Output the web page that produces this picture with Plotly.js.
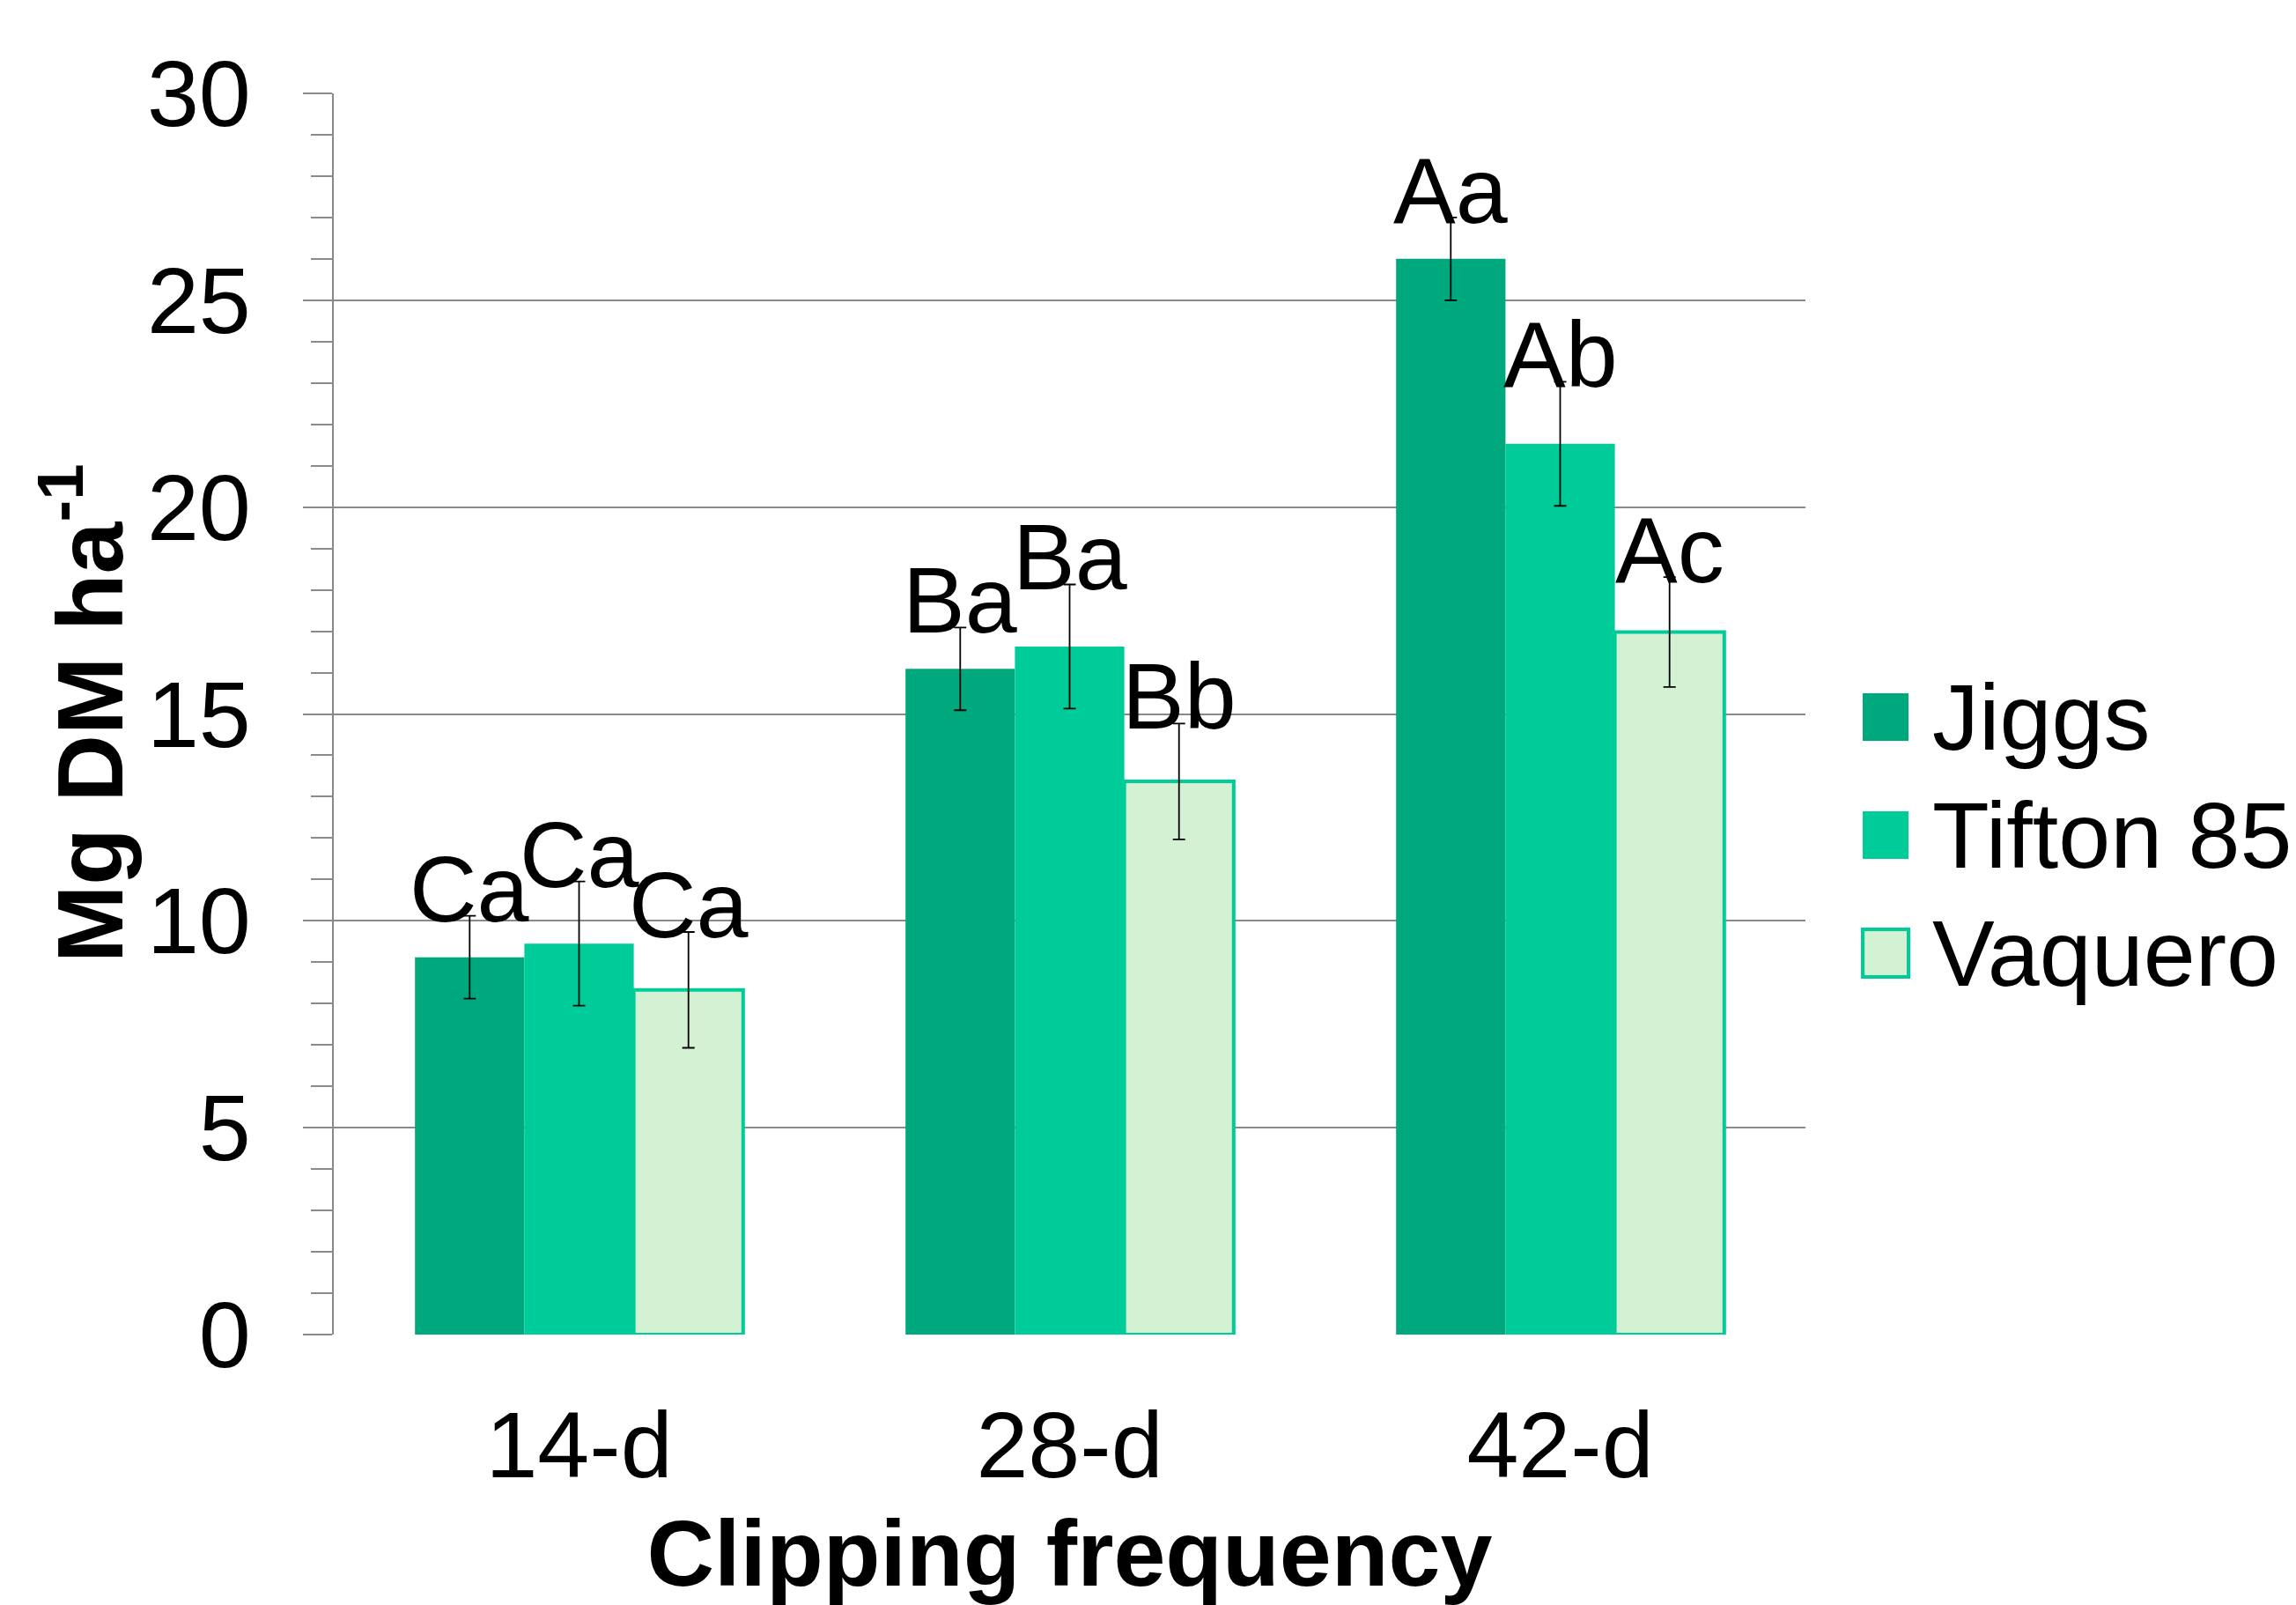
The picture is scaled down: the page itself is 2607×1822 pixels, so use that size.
<!DOCTYPE html>
<html>
<head>
<meta charset="utf-8">
<script src="https://cdn.plot.ly/plotly-3.0.1.min.js"></script>
<style>
  html, body { margin: 0; padding: 0; background: #ffffff; }
  #chart { width: 2607px; height: 1822px; }
</style>
</head>
<body>
<div id="chart"></div>
<script>
// ---- data ----
const categories = ["14-d", "28-d", "42-d"];
const seriesNames = ["Jiggs", "Tifton 85", "Vaquero"];
const jiggs = [9.12, 16.09, 26.0];
const jiggsErr = [1.0, 1.0, 1.0];
const tifton = [9.45, 16.63, 21.53];
const tiftonErr = [1.5, 1.5, 1.5];
const vaquero = [8.33, 13.37, 16.98];
const vaqueroErr = [1.4, 1.4, 1.33];
const jiggsLetters = ["Ca", "Ba", "Aa"];
const tiftonLetters = ["Ca", "Ba", "Ab"];
const vaqueroLetters = ["Ca", "Bb", "Ac"];

// ---- styles ----
const FONT = "Liberation Sans, Arial, Helvetica, sans-serif";
const FS = 106;
const GRAY = "#8a8a8a";
const colors = ["#00A87D", "#00CC99", "#D3F1D3"];
const outlineColors = ["#00A87D", "#00CC99", "#00CC99"];
const outlineWidths = [0, 0, 4];
const BARGAP = 0.331;

const vals = [jiggs, tifton, vaquero];
const errs = [jiggsErr, tiftonErr, vaqueroErr];
const letters = [jiggsLetters, tiftonLetters, vaqueroLetters];

// ---- layout geometry ----
const W = 2607, H = 1822;
const L = 379, R = 2050, T = 106, B = 1515;
const px = v => (v - L) / (R - L);
const py = v => (B - v) / (B - T);

const traces = [];
for (let i = 0; i < 3; i++) {
  traces.push({
    type: "bar",
    name: seriesNames[i],
    x: categories,
    y: vals[i],
    offsetgroup: "g" + i,
    marker: { color: colors[i], line: { color: outlineColors[i], width: outlineWidths[i] } },
    error_y: { type: "data", array: errs[i], visible: true, color: "#000000", thickness: 1.8, width: 7 },
    showlegend: false,
    hoverinfo: "skip"
  });
}

const annotations = [];
// significance letters: placed at the top of each error bar, offset to its bar slot
const catW = (R - L) / categories.length;
const barW = catW * (1 - BARGAP) / vals.length;
for (let i = 0; i < vals.length; i++) {
  for (let k = 0; k < categories.length; k++) {
    annotations.push({
      xref: "x", yref: "y",
      x: categories[k], y: vals[i][k] + errs[i][k],
      xshift: (i - (vals.length - 1) / 2) * barW,
      yshift: -30,
      xanchor: "center", yanchor: "bottom",
      text: letters[i][k], showarrow: false,
      font: { family: FONT, size: FS, color: "#000000" }
    });
  }
}

// ---- manual legend (swatches + labels) ----
const legendRows = [
  { y0: 787, y1: 841 },
  { y0: 921, y1: 975 },
  { y0: 1055, y1: 1109 }
];
const shapes = [];
legendRows.forEach((r, i) => {
  shapes.push({
    type: "rect", xref: "paper", yref: "paper",
    x0: px(2115), x1: px(2167), y0: py(r.y1), y1: py(r.y0),
    fillcolor: colors[i],
    line: { color: outlineColors[i], width: outlineWidths[i] }
  });
  annotations.push({
    xref: "paper", yref: "paper",
    x: px(2192), y: py((r.y0 + r.y1) / 2),
    xanchor: "left", yanchor: "middle",
    text: seriesNames[i], showarrow: false,
    font: { family: FONT, size: FS, color: "#000000" }
  });
});

// y-axis title as rotated annotation for exact placement
annotations.push({
  xref: "paper", yref: "paper",
  x: px(94), y: py(810),
  xanchor: "center", yanchor: "middle",
  textangle: -90,
  text: "<b>Mg DM ha<sup>-1</sup></b>", showarrow: false,
  font: { family: FONT, size: FS, color: "#000000" }
});

const layout = {
  width: W, height: H,
  paper_bgcolor: "#ffffff", plot_bgcolor: "#ffffff",
  margin: { l: L, r: W - R, t: T, b: H - B, pad: 0 },
  font: { family: FONT, size: FS, color: "#000000" },
  barmode: "group",
  bargap: BARGAP,
  bargroupgap: 0,
  showlegend: false,
  xaxis: {
    type: "category",
    showline: false, showgrid: false, zeroline: false,
    ticks: "",
    tickfont: { family: FONT, size: FS, color: "#000000" },
    ticklabelstandoff: 55,
    title: { text: "Clipping frequency", font: { family: FONT, size: FS, color: "#000000", weight: "bold" }, standoff: 50 }
  },
  yaxis: {
    range: [0, 30], dtick: 5, tick0: 0,
    showline: true, linecolor: GRAY, linewidth: 2,
    showgrid: true, gridcolor: GRAY, gridwidth: 2,
    zeroline: false,
    ticks: "outside", ticklen: 33, tickwidth: 2, tickcolor: GRAY,
    tickfont: { family: FONT, size: FS, color: "#000000" },
    ticklabelstandoff: 38,
    minor: { dtick: 1, ticks: "outside", ticklen: 24, tickwidth: 2, tickcolor: GRAY, showgrid: false }
  },
  shapes: shapes,
  annotations: annotations
};

Plotly.newPlot("chart", traces, layout, { staticPlot: true, displayModeBar: false });
</script>
</body>
</html>
